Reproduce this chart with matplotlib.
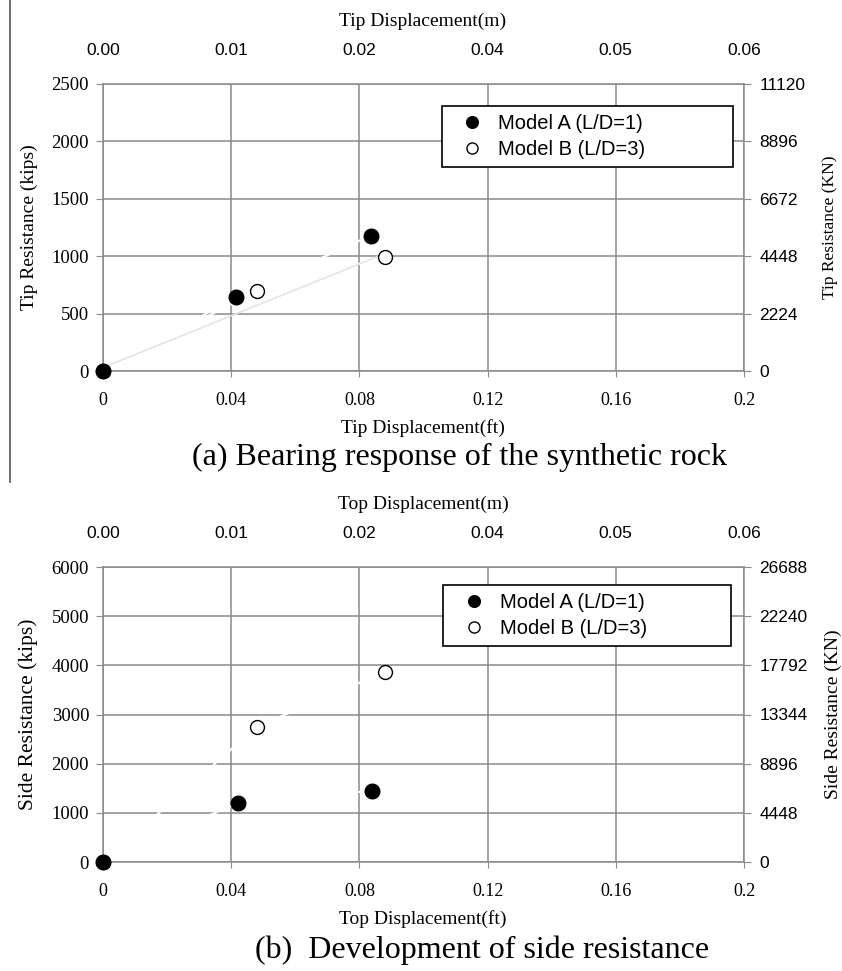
import matplotlib.pyplot as plt
from matplotlib.lines import Line2D

SERIF = ['Liberation Serif', 'DejaVu Serif']
SANS = ['Liberation Sans', 'DejaVu Sans']

# shared x ticks (ft) and the matching metre labels on the top axis
x_ticks = [0, 0.04, 0.08, 0.12, 0.16, 0.2]
x_tick_labels = ['0', '0.04', '0.08', '0.12', '0.16', '0.2']
m_tick_labels = ['0.00', '0.01', '0.02', '0.04', '0.05', '0.06']

# (a) bearing response
tip_a_x = [0, 0.0415, 0.0835]
tip_a_y = [0, 645, 1180]
tip_b_x = [0, 0.048, 0.088]
tip_b_y = [0, 700, 995]
tip_trend_x = [0, 0.086]
tip_trend_y = [30, 1000]
tip_kips_ticks = [0, 500, 1000, 1500, 2000, 2500]
tip_kn_labels = ['0', '2224', '4448', '6672', '8896', '11120']

# (b) side resistance
side_a_x = [0, 0.042, 0.084]
side_a_y = [0, 1200, 1450]
side_b_x = [0, 0.048, 0.088]
side_b_y = [0, 2750, 3870]
side_kips_ticks = [0, 1000, 2000, 3000, 4000, 5000, 6000]
side_kn_labels = ['0', '4448', '8896', '13344', '17792', '22240', '26688']

W, H = 842, 971
fig = plt.figure(figsize=(W / 100, H / 100), dpi=100)
GRID = '#8a8a8a'


def panel(top, bottom, ax_x, ay, bx, by, yticks, kn_labels, top_title, bot_title,
          ylab, kn_lab, caption, cap_x, cap_y, ylab_size, kn_size, legend_box):
    ax = fig.add_axes([103 / W, 1 - bottom / H, 641 / W, (bottom - top) / H])
    ax.set_xlim(0, 0.2)
    ax.set_ylim(yticks[0], yticks[-1])
    ax.set_xticks(x_ticks)
    ax.set_xticklabels(x_tick_labels, family=SERIF, fontsize=13)
    ax.set_yticks(yticks)
    ax.set_yticklabels([str(v) for v in yticks], family=SERIF, fontsize=13.5)
    ax.grid(True, color=GRID, lw=1.1)
    ax.set_axisbelow(True)
    for s in ax.spines.values():
        s.set_color(GRID)
        s.set_linewidth(1.1)
    ax.tick_params(axis='x', direction='out', length=4, color=GRID, pad=11)
    ax.tick_params(axis='y', direction='out', length=5, color=GRID, pad=5)

    # connecting lines are white in the original, only visible over the grid
    ax.plot(bx, by, color='white', lw=1.5, zorder=2)
    ax.plot(ax_x, ay, color='white', lw=1.5, zorder=2)
    hb, = ax.plot(bx, by, ls='none', marker='o', ms=10, mfc='white', mec='black',
                  mew=1.0, zorder=3, clip_on=False, label='Model B (L/D=3)')
    ha, = ax.plot(ax_x, ay, ls='none', marker='o', ms=10.5, mfc='black', mec='black',
                  zorder=4, clip_on=False, label='Model A (L/D=1)')

    leg = ax.legend(handles=[ha, hb], loc='upper left', bbox_to_anchor=legend_box,
                    mode='expand', prop={'family': SANS, 'size': 14.5}, markerscale=0.8,
                    frameon=True, fancybox=False, framealpha=1, edgecolor='black',
                    borderpad=0.4, labelspacing=0.35, handlelength=2.2,
                    handletextpad=0.2, borderaxespad=0)
    leg.get_frame().set_linewidth(1.2)
    leg.set_zorder(5)

    # right axis in kN
    axr = ax.twinx()
    axr.set_ylim(ax.get_ylim())
    axr.set_yticks(yticks)
    axr.set_yticklabels(kn_labels, family=SANS, fontsize=12.5)
    axr.tick_params(axis='y', direction='out', length=5, color=GRID, pad=6)
    axr.set_ylabel(kn_lab, family=SERIF, fontsize=kn_size, labelpad=12)
    for s in axr.spines.values():
        s.set_visible(False)

    # top axis in metres
    axt = ax.twiny()
    axt.set_xlim(ax.get_xlim())
    axt.set_xticks(x_ticks)
    axt.set_xticklabels(m_tick_labels, family=SANS, fontsize=12.5)
    axt.tick_params(axis='x', length=0, pad=19)
    for s in axt.spines.values():
        s.set_visible(False)

    ax.set_ylabel(ylab, family=SERIF, fontsize=ylab_size, labelpad=10)
    fig.text(423 / W, 1 - (top - 63) / H, top_title, family=SERIF, fontsize=14,
             ha='center', va='center')
    fig.text(423 / W, 1 - (bottom + 57) / H, bot_title, family=SERIF, fontsize=14,
             ha='center', va='center')
    fig.text(cap_x / W, 1 - cap_y / H, caption, family=SERIF, fontsize=23,
             ha='center', va='center')
    return ax


ax1 = panel(84, 371, tip_a_x, tip_a_y, tip_b_x, tip_b_y, tip_kips_ticks, tip_kn_labels,
            'Tip Displacement(m)', 'Tip Displacement(ft)', 'Tip Resistance (kips)',
            'Tip Resistance (KN)', '(a) Bearing response of the synthetic rock', 459, 457,
            14, 12.5, (0.529, 0.5, 0.454, 0.423))
ax1.plot(tip_trend_x, tip_trend_y, color='#e4e4e4', lw=1.2, zorder=2.5)

panel(567, 862, side_a_x, side_a_y, side_b_x, side_b_y, side_kips_ticks, side_kn_labels,
      'Top Displacement(m)', 'Top Displacement(ft)', 'Side Resistance (kips)',
      'Side Resistance (KN)', '(b)  Development of side resistance', 482, 950,
      15.5, 14, (0.531, 0.5, 0.448, 0.439))

# scan edge line on the left of the upper panel
fig.add_artist(Line2D([10 / W, 10 / W], [1 - 482 / H, 1.0], color='#555555', lw=1.2))

fig.savefig('out.png', dpi=100)
